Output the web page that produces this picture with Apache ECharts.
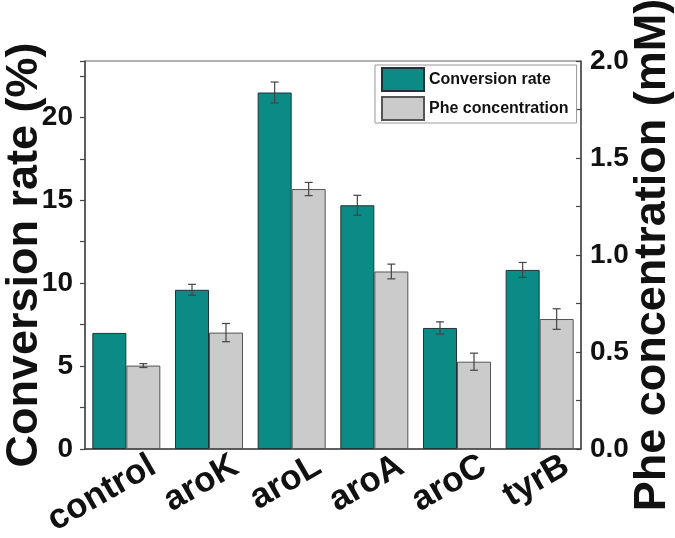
<!DOCTYPE html>
<html>
<head>
<meta charset="utf-8">
<script src="https://cdn.jsdelivr.net/npm/echarts@6/dist/echarts.min.js"></script>
<style>html,body{margin:0;padding:0;background:#fff;}#c{width:675px;height:538px;}</style>
</head>
<body>
<div id="c"></div>
<script>
const categories = ['control', 'aroK', 'aroL', 'aroA', 'aroC', 'tyrB'];
const conversionRate = [7.0, 9.6, 21.5, 14.7, 7.3, 10.8];
const conversionErr = [0, 0.33, 0.63, 0.6, 0.37, 0.45];
const pheConc = [0.43, 0.60, 1.34, 0.915, 0.45, 0.67];
const pheErr = [0.01, 0.047, 0.034, 0.038, 0.044, 0.053];
const leftTicks = [0, 5, 10, 15, 20];
const rightTicks = [0.0, 0.5, 1.0, 1.5, 2.0];
const leftMax = 23.4;
const rightMax = 2.0;

const FONT = 'Liberation Sans, Arial, sans-serif';
const BAR_W = 34;

function errRenderer(offsetSign) {
  return function (params, api) {
    const i = api.value(0), v = api.value(1), e = api.value(2);
    if (!e) return null;
    const top = api.coord([i, v + e]);
    const bot = api.coord([i, v - e]);
    const x = top[0] + offsetSign * BAR_W / 2;
    const hw = 4;
    const st = { stroke: '#444', lineWidth: 1.2 };
    return {
      type: 'group',
      children: [
        { type: 'line', shape: { x1: x, y1: top[1], x2: x, y2: bot[1] }, style: st },
        { type: 'line', shape: { x1: x - hw, y1: top[1], x2: x + hw, y2: top[1] }, style: st },
        { type: 'line', shape: { x1: x - hw, y1: bot[1], x2: x + hw, y2: bot[1] }, style: st }
      ]
    };
  };
}

const chart = echarts.init(document.getElementById('c'), null, { renderer: 'canvas' });
chart.setOption({
  backgroundColor: '#fff',
  animation: false,
  textStyle: { fontFamily: FONT },
  grid: {
    left: 85, right: 94, top: 61, bottom: 89, containLabel: false, outerBoundsMode: 'none',
    show: true, borderColor: '#666', borderWidth: 1, backgroundColor: 'transparent'
  },
  legend: {
    left: 375, top: 65, orient: 'vertical',
    data: ['Conversion rate', 'Phe concentration'],
    icon: 'rect', itemWidth: 42, itemHeight: 23, itemGap: 4,
    padding: [2, 8, 2, 6],
    borderColor: '#999', borderWidth: 1,
    textStyle: { fontSize: 16, fontWeight: 'bold', color: '#111', fontFamily: FONT }
  },
  xAxis: [
    {
      type: 'category', data: categories, position: 'bottom',
      axisLine: { lineStyle: { color: '#444', width: 1.5 } },
      axisTick: { alignWithLabel: true, length: 7, lineStyle: { color: '#444', width: 1.2 } },
      axisLabel: {
        interval: 0, rotate: 30, margin: 30, padding: [0, -31, 0, 0],
        fontSize: 35, fontWeight: 'bold', color: '#111', fontFamily: FONT
      },
      splitLine: { show: false }
    },
    {
      type: 'category', data: categories, position: 'bottom',
      axisLine: { show: false },
      axisTick: { alignWithLabel: false, length: 4, lineStyle: { color: '#444', width: 1.2 } },
      axisLabel: { show: false },
      splitLine: { show: false }
    }
  ],
  yAxis: [
    {
      type: 'value', position: 'left', min: 0, max: leftMax, interval: 2.5,
      name: 'Conversion rate (%)', nameLocation: 'middle', nameGap: 38, nameMoveOverlap: false,
      nameTextStyle: { fontSize: 45, fontWeight: 'bold', color: '#111', fontFamily: FONT },
      axisLine: { show: true, lineStyle: { color: '#444', width: 1.5 } },
      axisTick: { show: true, length: 5, lineStyle: { color: '#444', width: 1.2 } },
      axisLabel: {
        margin: 12, fontSize: 28, fontWeight: 'bold', color: '#111', fontFamily: FONT,
        formatter: function (v) { return leftTicks.indexOf(v) >= 0 ? String(v) : ''; }
      },
      splitLine: { show: false }
    },
    {
      type: 'value', position: 'right', min: 0, max: rightMax, interval: 0.25,
      name: 'Phe concentration (mM)', nameLocation: 'middle', nameGap: 49, nameMoveOverlap: false,
      nameTextStyle: { fontSize: 45, fontWeight: 'bold', color: '#111', fontFamily: FONT },
      axisLine: { show: true, lineStyle: { color: '#444', width: 1.5 } },
      axisTick: { show: true, inside: true, length: 5, lineStyle: { color: '#444', width: 1.2 } },
      axisLabel: {
        margin: 9, fontSize: 28, fontWeight: 'bold', color: '#111', fontFamily: FONT,
        formatter: function (v) {
          for (const t of rightTicks) { if (Math.abs(t - v) < 1e-6) return t.toFixed(1); }
          return '';
        }
      },
      splitLine: { show: false }
    }
  ],
  series: [
    {
      name: 'Conversion rate', type: 'bar', xAxisIndex: 0, yAxisIndex: 0,
      data: conversionRate, barWidth: BAR_W, barGap: '0%',
      itemStyle: { color: '#0b8a86', borderColor: '#1f3535', borderWidth: 1 }
    },
    {
      name: 'Phe concentration', type: 'bar', xAxisIndex: 0, yAxisIndex: 1,
      data: pheConc, barWidth: BAR_W, barGap: '0%',
      itemStyle: { color: '#cbcbcb', borderColor: '#555', borderWidth: 1 }
    },
    {
      type: 'custom', xAxisIndex: 0, yAxisIndex: 0, z: 5,
      renderItem: errRenderer(-1),
      data: conversionRate.map((v, i) => [i, v, conversionErr[i]])
    },
    {
      type: 'custom', xAxisIndex: 0, yAxisIndex: 1, z: 5,
      renderItem: errRenderer(1),
      data: pheConc.map((v, i) => [i, v, pheErr[i]])
    }
  ]
});
</script>
</body>
</html>
